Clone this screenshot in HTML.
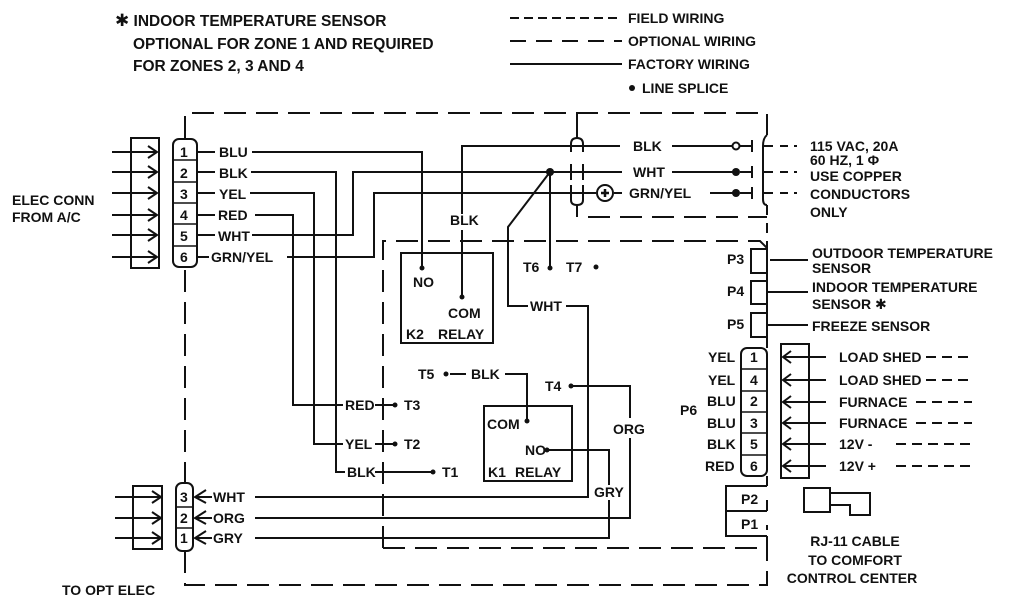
<!DOCTYPE html>
<html><head><meta charset="utf-8"><style>
html,body{margin:0;padding:0;background:#fff;}
svg{display:block;}
text{font-family:"Liberation Sans","DejaVu Sans",Arial,sans-serif;font-weight:bold;font-size:14px;fill:#111;}
</style></head><body>
<svg width="1024" height="600" viewBox="0 0 1024 600" xmlns="http://www.w3.org/2000/svg">
<g stroke="#111" stroke-width="2" fill="none">
<line x1="510" y1="18" x2="622" y2="18" stroke-dasharray="9,5"/>
<line x1="510" y1="41" x2="622" y2="41" stroke-dasharray="16,10"/>
<line x1="510" y1="64" x2="622" y2="64"/>
<polyline points="185,138 185,113 767,113 767,135" stroke-dasharray="22,10"/>
<line x1="185" y1="270" x2="185" y2="483" stroke-dasharray="22,10"/>
<polyline points="185,551 185,585 767,585 767,536" stroke-dasharray="22,10"/>
<polyline points="383,548 383,241 760,241 767,248" stroke-dasharray="22,10"/>
<line x1="383" y1="548" x2="767" y2="548" stroke-dasharray="22,10"/>
<line x1="767" y1="548" x2="767" y2="536"/>
<line x1="767" y1="476" x2="767" y2="486"/>
<polyline points="588,217 767,217" stroke-dasharray="22,10"/>
<line x1="767" y1="205" x2="767" y2="248" stroke-dasharray="10,8"/>
<line x1="577" y1="113" x2="577" y2="138"/>
<line x1="577" y1="205" x2="577" y2="217"/>
<rect x="131" y="138" width="28" height="130"/>
<rect x="173" y="139" width="24" height="128" rx="6"/>
<g stroke-width="1.6">
<line x1="173" y1="160" x2="197" y2="160"/><line x1="173" y1="182" x2="197" y2="182"/><line x1="173" y1="203" x2="197" y2="203"/><line x1="173" y1="224" x2="197" y2="224"/><line x1="173" y1="246" x2="197" y2="246"/>
</g>
<g>
<line x1="112" y1="152" x2="156" y2="152"/><polyline points="148,146 157,152 148,158"/>
<line x1="112" y1="172" x2="156" y2="172"/><polyline points="148,166 157,172 148,178"/>
<line x1="112" y1="193" x2="156" y2="193"/><polyline points="148,187 157,193 148,199"/>
<line x1="112" y1="215" x2="156" y2="215"/><polyline points="148,209 157,215 148,221"/>
<line x1="112" y1="235" x2="156" y2="235"/><polyline points="148,229 157,235 148,241"/>
<line x1="112" y1="257" x2="156" y2="257"/><polyline points="148,251 157,257 148,263"/>
</g>
<line x1="197" y1="152" x2="215" y2="152"/><line x1="197" y1="172" x2="215" y2="172"/><line x1="197" y1="193" x2="215" y2="193"/><line x1="197" y1="215" x2="215" y2="215"/><line x1="197" y1="235" x2="215" y2="235"/><line x1="197" y1="257" x2="209" y2="257"/>
<polyline points="252,152 422,152 422,268"/>
<polyline points="251,172 336,172 336,472 345,472"/>
<polyline points="250,193 314,193 314,444 343,444"/>
<polyline points="255,215 293,215 293,405 343,405"/>
<polyline points="252,235 353,235 353,172 550,172"/>
<polyline points="287,257 374,257 374,193 596,193"/>
<polyline points="550,172 508,227 508,306 528,306"/>
<polyline points="566,306 588,306 588,497 255,497"/>
<line x1="550" y1="172" x2="550" y2="268"/>
<polyline points="462,297 462,230"/><polyline points="462,214 462,146 620,146"/>
<line x1="550" y1="172" x2="622" y2="172"/>
<line x1="672" y1="146" x2="732" y2="146"/><line x1="672" y1="172" x2="735" y2="172"/><line x1="710" y1="193" x2="735" y2="193"/>
<line x1="740" y1="146" x2="752" y2="146"/><line x1="740" y1="172" x2="752" y2="172"/><line x1="740" y1="193" x2="752" y2="193"/>
<line x1="752" y1="140" x2="752" y2="152"/><line x1="752" y1="166" x2="752" y2="178"/><line x1="752" y1="187" x2="752" y2="199"/>
<path d="M767 135 Q763 138 763 146 L763 199 Q763 205 767 205"/>
<line x1="763" y1="146" x2="773" y2="146" /><line x1="763" y1="172" x2="773" y2="172"/><line x1="763" y1="193" x2="773" y2="193"/>
<line x1="780" y1="146" x2="797" y2="146" stroke-dasharray="8,6"/><line x1="780" y1="172" x2="797" y2="172" stroke-dasharray="8,6"/><line x1="780" y1="193" x2="797" y2="193" stroke-dasharray="8,6"/>
<path d="M571 152 L571 144 Q571 138 577 138 Q583 138 583 144 L583 152"/>
<line x1="571" y1="164" x2="571" y2="180"/><line x1="583" y1="164" x2="583" y2="180"/>
<line x1="571" y1="185" x2="571" y2="200"/><line x1="583" y1="185" x2="583" y2="200"/>
<path d="M571 200 Q571 205 577 205 Q583 205 583 200"/>
<circle cx="605" cy="193" r="8"/><path d="M601 193h8M605 189v8" stroke-width="2.5"/>
<line x1="614" y1="193" x2="622" y2="193"/>
<rect x="401" y="253" width="92" height="90"/>
<rect x="484" y="406" width="88" height="75"/>
<polyline points="450,374 466,374"/><polyline points="505,374 527,374 527,421"/>
<polyline points="571,386 630,386 630,418"/><polyline points="630,438 630,518 255,518"/>
<polyline points="547,450 609,450 609,485"/><polyline points="609,500 609,538 255,538"/>
<line x1="375" y1="405" x2="394" y2="405"/><line x1="383" y1="398" x2="383" y2="412"/>
<line x1="375" y1="444" x2="394" y2="444"/><line x1="383" y1="437" x2="383" y2="451"/>
<line x1="375" y1="472" x2="433" y2="472"/>
<rect x="751" y="249" width="16" height="24"/>
<rect x="751" y="281" width="16" height="23"/>
<rect x="751" y="313" width="16" height="24"/>
<line x1="767" y1="273" x2="767" y2="281"/><line x1="767" y1="304" x2="767" y2="313"/><line x1="767" y1="337" x2="767" y2="348"/>
<line x1="770" y1="260" x2="808" y2="260"/><line x1="767" y1="292" x2="808" y2="292"/><line x1="767" y1="325" x2="808" y2="325"/>
<rect x="741" y="348" width="26" height="128" rx="6"/>
<g stroke-width="1.6">
<line x1="741" y1="369" x2="767" y2="369"/><line x1="741" y1="391" x2="767" y2="391"/><line x1="741" y1="412" x2="767" y2="412"/><line x1="741" y1="433" x2="767" y2="433"/><line x1="741" y1="455" x2="767" y2="455"/>
</g>
<rect x="781" y="344" width="28" height="134"/>
<g>
<line x1="783" y1="357" x2="826" y2="357"/><polyline points="791,351 783,357 791,363"/>
<line x1="783" y1="380" x2="826" y2="380"/><polyline points="791,374 783,380 791,386"/>
<line x1="783" y1="402" x2="826" y2="402"/><polyline points="791,396 783,402 791,408"/>
<line x1="783" y1="423" x2="826" y2="423"/><polyline points="791,417 783,423 791,429"/>
<line x1="783" y1="444" x2="826" y2="444"/><polyline points="791,438 783,444 791,450"/>
<line x1="783" y1="466" x2="826" y2="466"/><polyline points="791,460 783,466 791,472"/>
</g>
<g stroke-dasharray="10,6">
<line x1="926" y1="357" x2="972" y2="357"/><line x1="926" y1="380" x2="972" y2="380"/>
<line x1="916" y1="402" x2="972" y2="402"/><line x1="916" y1="423" x2="972" y2="423"/>
<line x1="896" y1="444" x2="972" y2="444"/><line x1="896" y1="466" x2="972" y2="466"/>
</g>
<polyline points="767,486 726,486 726,536 767,536"/><line x1="726" y1="511" x2="767" y2="511"/>
<line x1="767" y1="500" x2="767" y2="511"/><line x1="767" y1="525" x2="767" y2="530"/>
<rect x="804" y="488" width="26" height="24"/>
<polyline points="830,493 870,493 870,515 850,515 850,505 830,505"/>
<rect x="133" y="486" width="29" height="63"/>
<rect x="176" y="483" width="17" height="68" rx="6"/>
<line x1="176" y1="507" x2="193" y2="507" stroke-width="1.6"/><line x1="176" y1="528" x2="193" y2="528" stroke-width="1.6"/>
<line x1="115" y1="497" x2="160" y2="497"/><polyline points="152,491 161,497 152,503"/>
<line x1="115" y1="518" x2="160" y2="518"/><polyline points="152,512 161,518 152,524"/>
<line x1="115" y1="538" x2="160" y2="538"/><polyline points="152,532 161,538 152,544"/>
<polyline points="206,490 195,497 206,503"/><line x1="196" y1="497" x2="212" y2="497"/>
<polyline points="206,511 195,518 206,524"/><line x1="196" y1="518" x2="212" y2="518"/>
<polyline points="206,531 195,538 206,544"/><line x1="196" y1="538" x2="212" y2="538"/>
</g>
<g fill="#111">
<circle cx="632" cy="88" r="3"/>
<circle cx="550" cy="172" r="4"/>
<circle cx="736" cy="172" r="4"/><circle cx="736" cy="193" r="4"/>
<circle cx="422" cy="268" r="2.5"/><circle cx="462" cy="297" r="2.5"/>
<circle cx="550" cy="268" r="2.5"/><circle cx="596" cy="267" r="2.5"/>
<circle cx="446" cy="374" r="2.5"/><circle cx="527" cy="421" r="2.5"/>
<circle cx="571" cy="386" r="2.5"/><circle cx="547" cy="450" r="2.5"/>
<circle cx="395" cy="405" r="2.5"/><circle cx="395" cy="444" r="2.5"/><circle cx="433" cy="472" r="2.5"/>
</g>
<circle cx="736" cy="146" r="3.5" fill="#fff" stroke="#111" stroke-width="2"/>
<text x="115" y="26" style="font-size:15.5px"><tspan style="font-family:'DejaVu Sans',sans-serif;font-size:17px">✱</tspan> INDOOR TEMPERATURE SENSOR</text>
<text x="133" y="49" style="font-size:15.5px">OPTIONAL FOR ZONE 1 AND REQUIRED</text>
<text x="133" y="71" style="font-size:15.5px">FOR ZONES 2, 3 AND 4</text>
<text x="628" y="23">FIELD WIRING</text>
<text x="628" y="46">OPTIONAL WIRING</text>
<text x="628" y="69">FACTORY WIRING</text>
<text x="642" y="93">LINE SPLICE</text>
<text x="12" y="205">ELEC CONN</text>
<text x="12" y="222">FROM A/C</text>
<text x="180" y="157">1</text><text x="180" y="178">2</text><text x="180" y="199">3</text><text x="180" y="220">4</text><text x="180" y="241">5</text><text x="180" y="262">6</text>
<text x="219" y="157">BLU</text><text x="219" y="178">BLK</text><text x="219" y="199">YEL</text><text x="218" y="220">RED</text><text x="218" y="241">WHT</text><text x="211" y="262">GRN/YEL</text>
<text x="450" y="225">BLK</text>
<text x="633" y="151">BLK</text><text x="633" y="177">WHT</text><text x="629" y="198">GRN/YEL</text>
<text x="810" y="151">115 VAC, 20A</text><text x="810" y="165">60 HZ, 1 Φ</text><text x="810" y="181">USE COPPER</text><text x="810" y="199">CONDUCTORS</text><text x="810" y="217">ONLY</text>
<text x="413" y="287">NO</text><text x="448" y="318">COM</text><text x="406" y="339">K2</text><text x="438" y="339">RELAY</text>
<text x="523" y="272">T6</text><text x="566" y="272">T7</text>
<text x="530" y="311">WHT</text>
<text x="727" y="264">P3</text><text x="727" y="296">P4</text><text x="727" y="329">P5</text>
<text x="812" y="258">OUTDOOR TEMPERATURE</text><text x="812" y="273">SENSOR</text>
<text x="812" y="292">INDOOR TEMPERATURE</text><text x="812" y="309">SENSOR <tspan style="font-family:'DejaVu Sans',sans-serif">✱</tspan></text>
<text x="812" y="331">FREEZE SENSOR</text>
<text x="418" y="379">T5</text><text x="471" y="379">BLK</text>
<text x="545" y="391">T4</text>
<text x="345" y="410">RED</text><text x="404" y="410">T3</text>
<text x="345" y="449">YEL</text><text x="404" y="449">T2</text>
<text x="347" y="477">BLK</text><text x="442" y="477">T1</text>
<text x="487" y="429">COM</text><text x="525" y="455">NO</text><text x="488" y="477">K1</text><text x="515" y="477">RELAY</text>
<text x="613" y="434">ORG</text><text x="594" y="497">GRY</text>
<text x="708" y="362">YEL</text><text x="708" y="385">YEL</text><text x="707" y="406">BLU</text><text x="707" y="428">BLU</text><text x="707" y="449">BLK</text><text x="705" y="471">RED</text>
<text x="750" y="362">1</text><text x="750" y="385">4</text><text x="750" y="406">2</text><text x="750" y="428">3</text><text x="750" y="449">5</text><text x="750" y="471">6</text>
<text x="680" y="415">P6</text>
<text x="839" y="362">LOAD SHED</text><text x="839" y="385">LOAD SHED</text><text x="839" y="407">FURNACE</text><text x="839" y="428">FURNACE</text><text x="839" y="449">12V -</text><text x="839" y="471">12V +</text>
<text x="741" y="504">P2</text><text x="741" y="529">P1</text>
<text x="855" y="546" text-anchor="middle">RJ-11 CABLE</text><text x="855" y="565" text-anchor="middle">TO COMFORT</text><text x="852" y="583" text-anchor="middle">CONTROL CENTER</text>
<text x="180" y="502">3</text><text x="180" y="523">2</text><text x="180" y="543">1</text>
<text x="213" y="502">WHT</text><text x="213" y="523">ORG</text><text x="213" y="543">GRY</text>
<text x="62" y="595">TO OPT ELEC</text>
</svg>
</body></html>
